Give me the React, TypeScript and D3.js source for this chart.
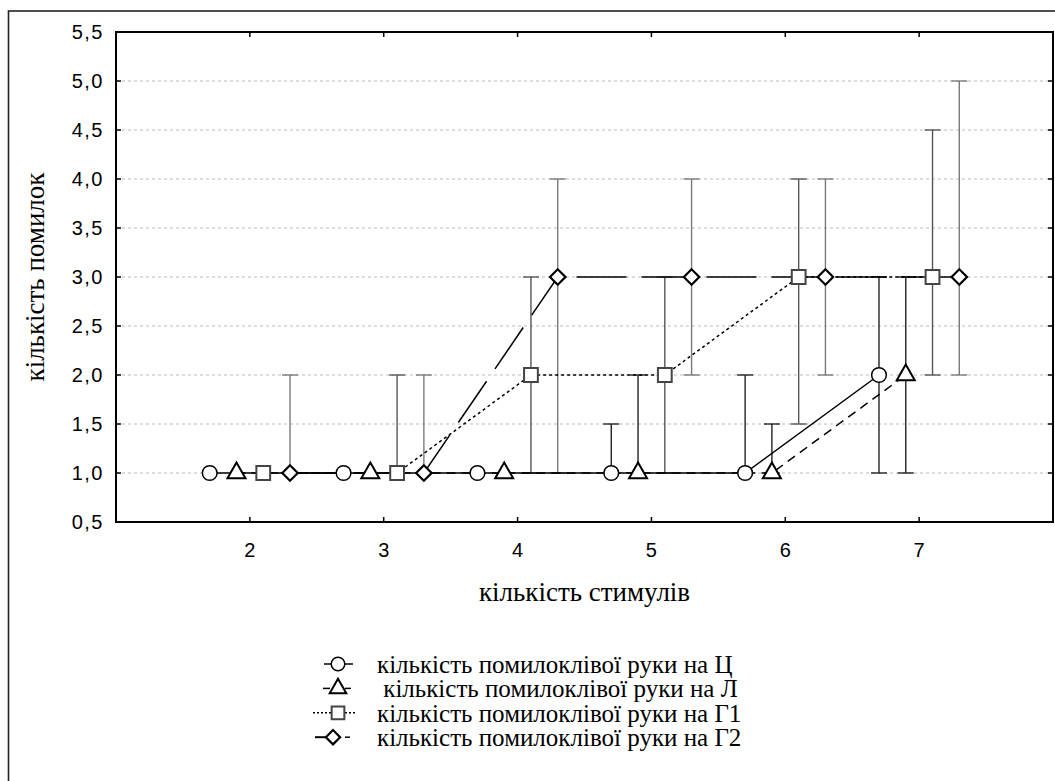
import { useEffect, useRef } from "react";
import * as d3 from "d3";

const W = 1055;
const H = 781;
const M = { top: 32, right: 2, bottom: 259, left: 116 };

const stimuli = [2, 3, 4, 5, 6, 7];
const yTicks = [0.5, 1, 1.5, 2, 2.5, 3, 3.5, 4, 4.5, 5, 5.5];

// Ц – circles, solid
const cMean = [1, 1, 1, 1, 1, 2];
const cLow = [1, 1, 1, 1, 1, 1];
const cHigh = [1, 1, 1, 1.5, 2, 3];
// Л – triangles, dashed
const tMean = [1, 1, 1, 1, 1, 2];
const tLow = [1, 1, 1, 1, 1, 1];
const tHigh = [1, 1, 1, 2, 1.5, 3];
// Г1 – squares, dotted
const sMean = [1, 1, 2, 2, 3, 3];
const sLow = [1, 1, 1, 1, 1.5, 2];
const sHigh = [1, 2, 3, 3, 4, 4.5];
// Г2 – diamonds, long dash
const dMean = [1, 1, 3, 3, 3, 3];
const dLow = [1, 1, 1, 2, 2, 2];
const dHigh = [2, 2, 4, 4, 4, 5];

const legendLabels = [
  "кількість помилоклівої руки на Ц",
  " кількість помилоклівої руки на Л",
  "кількість помилоклівої руки на Г1",
  "кількість помилоклівої руки на Г2",
];

type Series = {
  mean: number[];
  low: number[];
  high: number[];
  offset: number;
  symbol: d3.SymbolType;
  size: number;
  rotate: number;
  dash: string | null;
  barColor: string;
  markStroke: string;
  markWidth: number;
};

const series: Series[] = [
  { mean: cMean, low: cLow, high: cHigh, offset: -0.3, symbol: d3.symbolCircle, size: 170, rotate: 0, dash: null, barColor: "#222", markStroke: "#000", markWidth: 1.5 },
  { mean: tMean, low: tLow, high: tHigh, offset: -0.1, symbol: d3.symbolTriangle, size: 140, rotate: 0, dash: "9,6", barColor: "#222", markStroke: "#000", markWidth: 2 },
  { mean: sMean, low: sLow, high: sHigh, offset: 0.1, symbol: d3.symbolSquare, size: 190, rotate: 0, dash: "3,3", barColor: "#555", markStroke: "#444", markWidth: 2 },
  { mean: dMean, low: dLow, high: dHigh, offset: 0.3, symbol: d3.symbolSquare, size: 120, rotate: 45, dash: "50,15", barColor: "#7a7a7a", markStroke: "#000", markWidth: 2.2 },
];

export default function App() {
  const ref = useRef<SVGSVGElement>(null);

  useEffect(() => {
    if (!ref.current) return;
    const root = d3.select(ref.current);
    root.selectAll("*").remove();

    const x = d3.scaleLinear().domain([1, 8]).range([M.left, W - M.right]);
    const y = d3.scaleLinear().domain([0.5, 5.5]).range([H - M.bottom, M.top]);
    const x0 = M.left;
    const x1 = W - M.right;
    const y0 = H - M.bottom;
    const y1 = M.top;

    // outer frame
    root
      .append("rect")
      .attr("x", 8.5)
      .attr("y", 11)
      .attr("width", W + 20)
      .attr("height", H + 20)
      .attr("fill", "none")
      .attr("stroke", "#222")
      .attr("stroke-width", 1.6);

    // grid
    root
      .append("g")
      .selectAll("line")
      .data(yTicks.filter((v) => v > 0.5 && v < 5.5))
      .join("line")
      .attr("x1", x0)
      .attr("x2", x1)
      .attr("y1", (d) => y(d))
      .attr("y2", (d) => y(d))
      .attr("stroke", "#bbb")
      .attr("stroke-width", 1)
      .attr("stroke-dasharray", "3,3");

    const g = root.append("g");

    // error bars
    series.forEach((s) => {
      stimuli.forEach((st, i) => {
        if (s.high[i] === s.low[i]) return;
        const px = x(st + s.offset);
        g.append("line")
          .attr("x1", px)
          .attr("x2", px)
          .attr("y1", y(s.low[i]))
          .attr("y2", y(s.high[i]))
          .attr("stroke", s.barColor)
          .attr("stroke-width", 1.4);
        [s.low[i], s.high[i]].forEach((v) => {
          g.append("line")
            .attr("x1", px - 8)
            .attr("x2", px + 8)
            .attr("y1", y(v))
            .attr("y2", y(v))
            .attr("stroke", s.barColor)
            .attr("stroke-width", 1.4);
        });
      });
    });

    // lines
    series.forEach((s) => {
      const line = d3
        .line<number>()
        .x((_, i) => x(stimuli[i] + s.offset))
        .y((d) => y(d));
      g.append("path")
        .attr("d", line(s.mean))
        .attr("fill", "none")
        .attr("stroke", "#000")
        .attr("stroke-width", 1.5)
        .attr("stroke-dasharray", s.dash);
    });

    // markers
    series.forEach((s) => {
      const sym = d3.symbol().type(s.symbol).size(s.size);
      stimuli.forEach((st, i) => {
        g.append("path")
          .attr("d", sym())
          .attr("transform", `translate(${x(st + s.offset)},${y(s.mean[i])}) rotate(${s.rotate})`)
          .attr("fill", "#fff")
          .attr("stroke", s.markStroke)
          .attr("stroke-width", s.markWidth);
      });
    });

    // plot frame
    root
      .append("rect")
      .attr("x", x0)
      .attr("y", y1)
      .attr("width", x1 - x0)
      .attr("height", y0 - y1)
      .attr("fill", "none")
      .attr("stroke", "#000")
      .attr("stroke-width", 2);

    // ticks (inward)
    const tk = root.append("g").attr("stroke", "#000").attr("stroke-width", 1.5);
    yTicks.forEach((v) => {
      tk.append("line").attr("x1", x0).attr("x2", x0 + 5).attr("y1", y(v)).attr("y2", y(v));
      tk.append("line").attr("x1", x1 - 5).attr("x2", x1).attr("y1", y(v)).attr("y2", y(v));
    });
    stimuli.forEach((v) => {
      tk.append("line").attr("x1", x(v)).attr("x2", x(v)).attr("y1", y0).attr("y2", y0 - 5);
      tk.append("line").attr("x1", x(v)).attr("x2", x(v)).attr("y1", y1).attr("y2", y1 + 5);
    });

    // tick labels
    const lab = root
      .append("g")
      .attr("font-family", "'Liberation Sans', Arial, sans-serif")
      .attr("font-size", 20)
      .attr("fill", "#000");
    yTicks.forEach((v) => {
      lab
        .append("text")
        .attr("x", 104)
        .attr("y", y(v))
        .attr("dy", "0.36em")
        .attr("text-anchor", "end")
        .attr("letter-spacing", 1.5)
        .text(d3.format(".1f")(v).replace(".", ","));
    });
    stimuli.forEach((v) => {
      lab
        .append("text")
        .attr("x", x(v))
        .attr("y", 557)
        .attr("text-anchor", "middle")
        .text(String(v));
    });

    // axis titles
    const serif = "'Liberation Serif', 'Times New Roman', serif";
    root
      .append("text")
      .attr("transform", `translate(35,${(y0 + y1) / 2}) rotate(-90)`)
      .attr("text-anchor", "middle")
      .attr("dy", "0.35em")
      .attr("font-family", serif)
      .attr("font-size", 27)
      .text("кількість помилок");
    root
      .append("text")
      .attr("x", (x0 + x1) / 2)
      .attr("y", 592)
      .attr("dy", "0.35em")
      .attr("text-anchor", "middle")
      .attr("font-family", serif)
      .attr("font-size", 27)
      .text("кількість стимулів");

    // legend
    const lg = root.append("g");
    const rowY = (i: number) => 664 + i * 24.4;
    series.forEach((s, i) => {
      const cy = rowY(i);
      const row = lg.append("g");
      const cx = i === 3 ? 333 : 338;
      if (i === 0) {
        row.append("line").attr("x1", 324).attr("x2", 353).attr("y1", cy).attr("y2", cy).attr("stroke", "#000").attr("stroke-width", 1.5);
      } else if (i === 1) {
        row.append("line").attr("x1", 323).attr("x2", 330).attr("y1", cy).attr("y2", cy).attr("stroke", "#000").attr("stroke-width", 1.5);
        row.append("line").attr("x1", 345).attr("x2", 351).attr("y1", cy).attr("y2", cy).attr("stroke", "#000").attr("stroke-width", 1.5);
      } else if (i === 2) {
        row.append("line").attr("x1", 313).attr("x2", 357).attr("y1", cy).attr("y2", cy).attr("stroke", "#000").attr("stroke-width", 1.5).attr("stroke-dasharray", "2,2");
      } else {
        row.append("line").attr("x1", 315).attr("x2", 333).attr("y1", cy).attr("y2", cy).attr("stroke", "#000").attr("stroke-width", 2);
        row.append("line").attr("x1", 345).attr("x2", 350).attr("y1", cy).attr("y2", cy).attr("stroke", "#000").attr("stroke-width", 1.5);
      }
      row
        .append("path")
        .attr("d", d3.symbol().type(s.symbol).size(s.size * 0.85)())
        .attr("transform", `translate(${cx},${cy}) rotate(${s.rotate})`)
        .attr("fill", "#fff")
        .attr("stroke", s.markStroke)
        .attr("stroke-width", s.markWidth);
      row
        .append("text")
        .attr("x", 377)
        .attr("y", cy)
        .attr("dy", "0.35em")
        .attr("font-family", serif)
        .attr("font-size", 25)
        .attr("xml:space", "preserve")
        .style("white-space", "pre")
        .text(legendLabels[i]);
    });
  }, []);

  return (
    <div style={{ position: "absolute", left: 0, top: 0, width: W, height: H, background: "#fff", overflow: "hidden" }}>
      <svg ref={ref} width={W} height={H} viewBox={`0 0 ${W} ${H}`} style={{ display: "block" }} />
    </div>
  );
}
